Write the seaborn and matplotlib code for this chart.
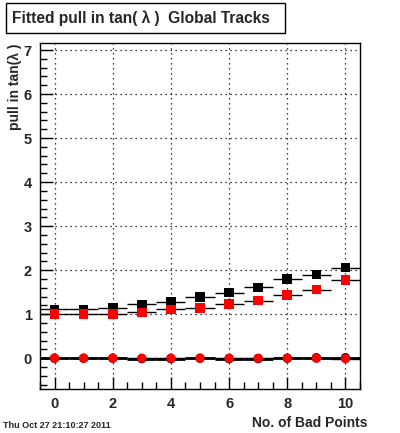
import numpy as np
import matplotlib
matplotlib.use("Agg")
import matplotlib.pyplot as plt
from matplotlib.patches import Rectangle
from matplotlib.ticker import MultipleLocator
import seaborn as sns
import pandas as pd

# data
bad_points = [0, 1, 2, 3, 4, 5, 6, 7, 8, 9, 10]
sigma_all = [1.11, 1.11, 1.14, 1.22, 1.28, 1.39, 1.49, 1.61, 1.80, 1.90, 2.06]
sigma_fit = [1.01, 1.01, 1.01, 1.04, 1.11, 1.14, 1.23, 1.31, 1.43, 1.56, 1.77]
mean_all = [0.0, 0.0, 0.0, -0.01, -0.01, 0.0, -0.01, -0.01, 0.0, 0.01, 0.01]
mean_fit = [0.0, 0.0, 0.0, 0.0, 0.0, 0.0, 0.0, 0.0, 0.0, 0.0, -0.01]

sns.set_style("white")
plt.rcParams['font.family'] = ['Liberation Sans', 'DejaVu Sans']

df = pd.DataFrame({
    'x': bad_points * 4,
    'y': sigma_all + sigma_fit + mean_all + mean_fit,
    'series': ['sigma_all'] * 11 + ['sigma_fit'] * 11 + ['mean_all'] * 11 + ['mean_fit'] * 11,
})

fig = plt.figure(figsize=(4.0, 4.33), dpi=100)
ax = fig.add_axes([0.1, 0.1016, 0.8, 0.7991])

# colour, marker, marker size, error bar width
styles = {
    'mean_all': ('black', 'o', 45, 2.0),
    'mean_fit': ('red', 'o', 45, 1.0),
    'sigma_all': ('black', 's', 48, 1.0),
    'sigma_fit': ('red', 's', 48, 1.0),
}
for name in ['mean_all', 'mean_fit', 'sigma_all', 'sigma_fit']:
    color, marker, size, lw = styles[name]
    sub = df[df['series'] == name]
    ax.errorbar(sub['x'], sub['y'], xerr=0.5, fmt='none', ecolor='black',
                elinewidth=lw, capsize=0, zorder=2)
    sns.scatterplot(data=sub, x='x', y='y', color=color, marker=marker,
                    s=size, edgecolor='none', ax=ax, zorder=3, legend=False)

ax.set_xlim(-0.5, 10.5)
ax.set_ylim(-0.7, 7.16)
ax.xaxis.set_major_locator(MultipleLocator(2))
ax.xaxis.set_minor_locator(MultipleLocator(0.5))
ax.yaxis.set_major_locator(MultipleLocator(1))
ax.yaxis.set_minor_locator(MultipleLocator(0.2))
ax.tick_params(which='both', direction='in', top=False, right=False,
               left=True, bottom=True, color='black', width=1)
ax.tick_params(which='major', length=9, labelsize=10.5, pad=6)
ax.tick_params(which='minor', length=5)
for lab in ax.get_xticklabels() + ax.get_yticklabels():
    lab.set_fontweight('bold')
ax.grid(True, which='major', color='black', linestyle=(0, (1, 3)), linewidth=0.9)
for sp in ax.spines.values():
    sp.set_color('black')
    sp.set_linewidth(1)
ax.set_xlabel('')
ax.set_ylabel('')

fig.text(367 / 400, 1 - 423 / 433, 'No. of Bad Points', ha='right', va='center',
         fontsize=10, fontweight='bold')
fig.text(15 / 400, 1 - 43 / 433, 'pull in tan(λ )', rotation=90, ha='center', va='top',
         fontsize=10, fontweight='bold')
fig.text(3 / 400, 1 - 425 / 433, 'Thu Oct 27 21:10:27 2011', ha='left', va='center',
         fontsize=6.5, fontweight='bold')

fig.patches.append(Rectangle((6 / 400, 1 - 33 / 433), 279 / 400, 30 / 433,
                             transform=fig.transFigure, fill=True, facecolor='white',
                             edgecolor='black', linewidth=1))
fig.text(12 / 400, 1 - 18 / 433, 'Fitted pull in tan( λ )  Global Tracks', ha='left',
         va='center', fontsize=11.2, fontweight='bold')

fig.savefig('out.png', dpi=100)
